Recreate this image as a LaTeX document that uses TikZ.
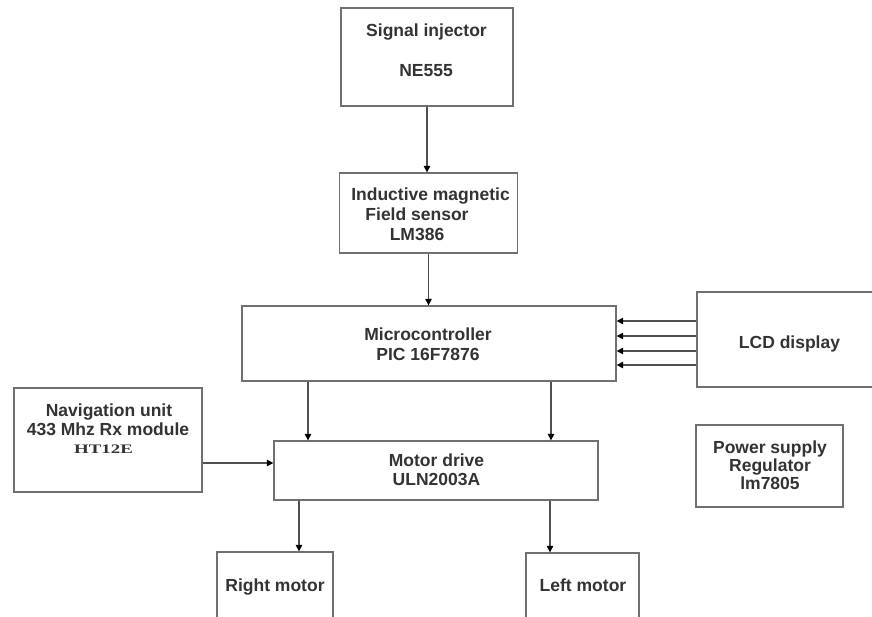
\documentclass[tikz,border=0pt]{standalone}
\usepackage{fontspec}
\setmainfont{Liberation Sans}
\newfontfamily\serifbold{Liberation Serif}
\usetikzlibrary{arrows.meta,calc}
\definecolor{boxgray}{HTML}{707070}
\definecolor{linegray}{HTML}{505050}
\definecolor{txtgray}{HTML}{333333}
\begin{document}
\begin{tikzpicture}[x=1pt,y=-1pt,
  box/.style={draw=boxgray, line width=1.3pt, rectangle, inner sep=0pt},
  lbl/.style={text=txtgray, font=\fontsize{17.5}{20}\selectfont\bfseries, inner sep=0pt, anchor=base},
  conn/.style={draw=linegray, line width=1.2pt, -{Triangle[length=6.5pt,width=6.5pt,color=black]}}]
\useasboundingbox (0,0) rectangle (872,617);
\clip (0,0) rectangle (872,617);
\fill[white] (0,0) rectangle (872,617);

% boxes
\node[box, minimum width=172pt, minimum height=98pt] (sig) at (427,57) {};
\node[box, minimum width=178pt, minimum height=80pt] (ind) at (428.5,213) {};
\node[box, minimum width=374pt, minimum height=75pt] (mcu) at (429,343.5) {};
\node[box, minimum width=190pt, minimum height=95pt] (lcd) at (792,339.5) {};
\node[box, minimum width=188pt, minimum height=104pt] (nav) at (108,440) {};
\node[box, minimum width=324pt, minimum height=59pt] (mot) at (436,470.5) {};
\node[box, minimum width=147pt, minimum height=82pt] (pwr) at (769.5,466) {};
\node[box, minimum width=116pt, minimum height=80pt] (rm) at (275,592) {};
\node[box, minimum width=113pt, minimum height=80pt] (lm) at (582.5,593) {};

% labels
\node[lbl] (sigA) at (426.5,37) {Signal injector};
\node[lbl] (sigB) at (426,77) {NE555};
\node[lbl] (indA) at (430.5,200.5) {Inductive magnetic};
\node[lbl] (indB) at (417,221) {Field sensor};
\node[lbl] (indC) at (417,240.5) {LM386};
\node[lbl] (mcuA) at (428,340) {Microcontroller};
\node[lbl] (mcuB) at (428,360) {PIC 16F7876};
\node[lbl] (lcdA) at (789.5,348) {LCD display};
\node[lbl] (navA) at (109,416.5) {Navigation unit};
\node[lbl] (navB) at (108,435) {433 Mhz Rx module};
\node[lbl, font=\serifbold\fontsize{13}{15}\selectfont\bfseries] (navC) at (103.5,453) {\scalebox{1.45}[1]{HT12E}};
\node[lbl] (motA) at (436.5,466.5) {Motor drive};
\node[lbl] (motB) at (436.5,485) {ULN2003A};
\node[lbl] (pwrA) at (770,453) {Power supply};
\node[lbl] (pwrB) at (770,471.5) {Regulator};
\node[lbl] (pwrC) at (770,489.5) {lm7805};
\node[lbl] (rmA) at (275,591.5) {Right motor};
\node[lbl] (lmA) at (583,591.5) {Left motor};

% connectors
\draw[conn] (sig.south) -- (sig.south |- ind.north);
\draw[conn] (ind.south) -- (ind.south |- mcu.north);
\foreach \dy in {-18.5,-3.5,11.5,25.5}
  \draw[conn] ($(lcd.west)+(0,\dy)$) -- ($(mcu.east |- lcd.west)+(0,\dy)$);
\draw[conn] ($(mcu.south)+(-121,0)$) coordinate (a1) -- (a1 |- mot.north);
\draw[conn] ($(mcu.south)+(122,0)$) coordinate (a2) -- (a2 |- mot.north);
\draw[conn] ($(nav.east)+(0,23)$) coordinate (n1) -- (n1 -| mot.west);
\draw[conn] ($(mot.south)+(-137,0)$) coordinate (m1) -- (m1 |- rm.north);
\draw[conn] ($(mot.south)+(114,0)$) coordinate (m2) -- (m2 |- lm.north);
\end{tikzpicture}
\end{document}
